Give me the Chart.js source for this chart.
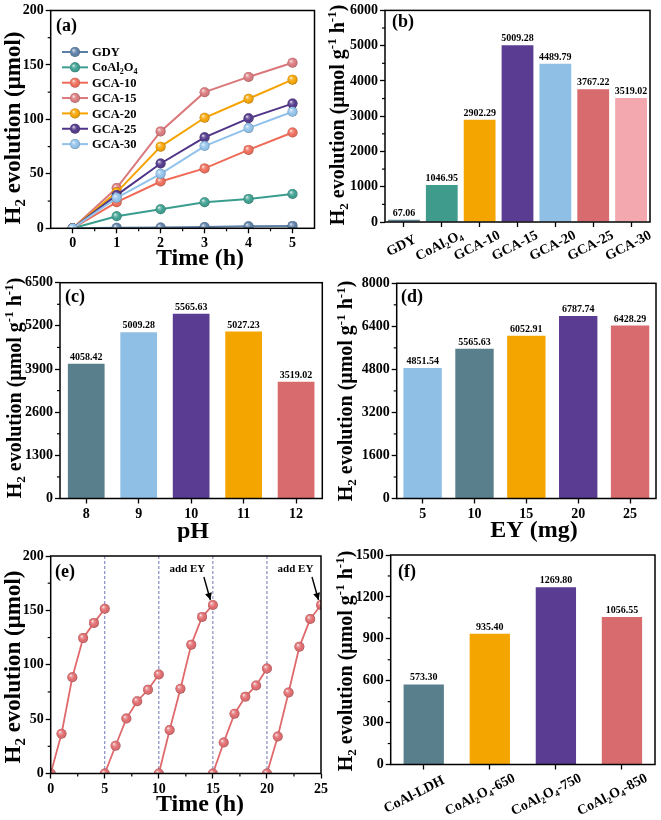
<!DOCTYPE html>
<html><head><meta charset="utf-8">
<script src="https://cdn.jsdelivr.net/npm/chart.js@4.4.1/dist/chart.umd.min.js"></script>
<style>
html,body{margin:0;padding:0;background:#fff;width:661px;height:820px;overflow:hidden;position:relative}
canvas{position:absolute}
</style></head><body>
<script>
const FAM = "'Liberation Serif','Times New Roman',Times,serif";

// ---------------- data ----------------
// (a) time course
const aTime = [0, 1, 2, 3, 4, 5];
const aNames = ['GDY', 'CoAl{_2}O{_4}', 'GCA-10', 'GCA-15', 'GCA-20', 'GCA-25', 'GCA-30'];
const aGDY = [0, 0.5, 0.8, 1.2, 1.8, 2.2];
const aCoAl2O4 = [0, 11, 17.5, 24, 27, 31.5];
const aGCA10 = [0, 24, 43, 55, 72, 88];
const aGCA15 = [0, 37, 89, 125, 139, 152];
const aGCA20 = [0, 33, 75, 101.5, 119, 136.5];
const aGCA25 = [0, 30.5, 59.5, 83.5, 101, 114.5];
const aGCA30 = [0, 28, 50, 75.5, 92, 107];
const aYTicks = [0, 50, 100, 150, 200];

// (b) rates of samples
const bCategories = ['GDY', 'CoAl{_2}O{_4}', 'GCA-10', 'GCA-15', 'GCA-20', 'GCA-25', 'GCA-30'];
const bValues = [67.06, 1046.95, 2902.29, 5009.28, 4489.79, 3767.22, 3519.02];
const bYTicks = [0, 1000, 2000, 3000, 4000, 5000, 6000];

// (c) pH
const cPH = ['8', '9', '10', '11', '12'];
const cValues = [4058.42, 5009.28, 5565.63, 5027.23, 3519.02];
const cYTicks = [0, 1300, 2600, 3900, 5200, 6500];

// (d) EY amount
const dEY = ['5', '10', '15', '20', '25'];
const dValues = [4851.54, 5565.63, 6052.91, 6787.74, 6428.29];
const dYTicks = [0, 1600, 3200, 4800, 6400, 8000];

// (e) cycling
const eCycleTimes = [[0,1,2,3,4,5],[5,6,7,8,9,10],[10,11,12,13,14,15],[15,16,17,18,19,20],[20,21,22,23,24,25]];
const eCycleValues = [
  [0, 36.5, 88.5, 124.5, 138.5, 151.5],
  [0, 25.5, 50.5, 66.5, 77, 91],
  [0, 40, 78, 118.5, 144, 155],
  [0, 28.5, 55, 70.5, 81, 96.5],
  [0, 34, 74.5, 116.5, 142, 155]
];
const eXTicks = [0, 5, 10, 15, 20, 25];
const eYTicks = [0, 50, 100, 150, 200];
const eDividers = [5, 10, 15, 20];
const eAddEY = [[2, 5], [4, 5]]; // (cycle, point) where EY was added

// (f) calcination
const fCategories = ['CoAl-LDH', 'CoAl{_2}O{_4}-650', 'CoAl{_2}O{_4}-750', 'CoAl{_2}O{_4}-850'];
const fValues = [573.30, 935.40, 1269.80, 1056.55];
const fYTicks = [0, 300, 600, 900, 1200, 1500];

// ---------------- styles ----------------
const C_SLATE = '#587F8B', C_TEAL = '#3F9C8D', C_ORANGE = '#F5A500', C_PURPLE = '#5B3C93',
      C_LBLUE = '#8FBFE4', C_RED = '#D86B6E', C_PINK = '#F2A8AE';
const aColors = ['#5A7EA6', '#3A9E8F', '#EF6B57', '#DA787C', '#F6A300', '#4F3488', '#90C2EB'];
const bColors = [C_SLATE, C_TEAL, C_ORANGE, C_PURPLE, C_LBLUE, C_RED, C_PINK];
const cColors = [C_SLATE, C_LBLUE, C_PURPLE, C_ORANGE, C_RED];
const dColors = [C_LBLUE, C_SLATE, C_ORANGE, C_PURPLE, C_RED];
const fColors = [C_SLATE, C_ORANGE, C_PURPLE, C_RED];
const eColor = '#E0696C';

const P = {
  a: {x:0,   y:0,   w:330, h:272, area:{l:50.7, t:10.5,  r:314.5, b:228.3}},
  b: {x:320, y:0,   w:341, h:272, area:{l:385,  t:6.5,   r:650,   b:222}},
  c: {x:0,   y:270, w:330, h:272, area:{l:60,   t:282.7, r:322.3, b:498.5}},
  d: {x:320, y:270, w:341, h:272, area:{l:396.7,t:283.3, r:656,   b:498.5}},
  e: {x:0,   y:540, w:330, h:280, area:{l:50.7, t:556,   r:321,   b:773.5}},
  f: {x:320, y:540, w:341, h:280, area:{l:390.7,t:555,   r:655,   b:764.5}}
};

// ---------------- helpers ----------------
function richParts(str) {
  const out = []; const re = /\{([_^])([^}]*)\}/g; let last = 0, m;
  while ((m = re.exec(str))) {
    if (m.index > last) out.push({t: str.slice(last, m.index), k: ''});
    out.push({t: m[2], k: m[1]}); last = re.lastIndex;
  }
  if (last < str.length) out.push({t: str.slice(last), k: ''});
  return out;
}
function drawRich(ctx, str, x, y, size, align) {
  const parts = richParts(str);
  const big = `bold ${size}px ${FAM}`, small = `bold ${Math.round(size * 0.64)}px ${FAM}`;
  let w = 0;
  parts.forEach(p => { ctx.font = p.k ? small : big; p.w = ctx.measureText(p.t).width; w += p.w; });
  let cx = align === 'center' ? x - w / 2 : align === 'right' ? x - w : x;
  ctx.textAlign = 'left'; ctx.textBaseline = 'alphabetic';
  parts.forEach(p => {
    ctx.font = p.k ? small : big;
    const dy = p.k === '_' ? size * 0.2 : p.k === '^' ? -size * 0.36 : 0;
    ctx.fillText(p.t, cx, y + dy); cx += p.w;
  });
  return w;
}
function drawRichAt(ctx, str, cx, cy, size, angle) {
  ctx.save(); ctx.translate(cx, cy); ctx.rotate(angle || 0);
  ctx.fillStyle = '#000';
  drawRich(ctx, str, 0, size * 0.33, size, 'center');
  ctx.restore();
}
function sphere(ctx, x, y, r) {
  const g = ctx.createRadialGradient(x - r * 0.35, y - r * 0.4, 0, x, y, r);
  g.addColorStop(0, 'rgba(255,255,255,0.92)');
  g.addColorStop(0.3, 'rgba(255,255,255,0.3)');
  g.addColorStop(0.65, 'rgba(255,255,255,0)');
  g.addColorStop(1, 'rgba(0,0,0,0.28)');
  ctx.fillStyle = g; ctx.beginPath(); ctx.arc(x, y, r, 0, Math.PI * 2); ctx.fill();
}
function mids(arr) { const o = []; for (let i = 0; i < arr.length - 1; i++) o.push((arr[i] + arr[i + 1]) / 2); return o; }

function makeCanvas(p) {
  const c = document.createElement('canvas');
  c.width = p.w; c.height = p.h;
  c.style.cssText = `left:${p.x}px;top:${p.y}px;width:${p.w}px;height:${p.h}px`;
  document.body.appendChild(c); return c;
}
const TICKFONT = {family: FAM, size: 14, weight: 'bold'};
function gridOpts(offset) {
  return {display: true, drawOnChartArea: false, drawTicks: true, tickLength: 5, tickColor: '#000', tickWidth: 1.3, offset: !!offset};
}
function yScale(p, ticks) {
  return {type: 'linear', bounds: 'data', min: ticks[0], max: ticks[ticks.length - 1],
    afterBuildTicks: s => { s.ticks = ticks.map(v => ({value: v})); },
    afterFit: s => { s.width = p.area.l - p.x; },
    ticks: {font: TICKFONT, color: '#000', padding: 2, autoSkip: false, callback: v => String(v)},
    grid: gridOpts(false), border: {display: false}};
}
function xLinear(p, ticks, min, max) {
  return {type: 'linear', bounds: 'data', min, max,
    afterBuildTicks: s => { s.ticks = ticks.map(v => ({value: v})); },
    afterFit: s => { s.height = p.y + p.h - p.area.b; },
    ticks: {font: TICKFONT, color: '#000', padding: 2, autoSkip: false, maxRotation: 0, callback: v => String(v)},
    grid: gridOpts(false), border: {display: false}};
}
function xCategory(p, showLabels) {
  return {type: 'category', offset: true,
    afterFit: s => { s.height = p.y + p.h - p.area.b; },
    ticks: {font: TICKFONT, color: '#000', padding: 2, autoSkip: false, maxRotation: 0, minRotation: 0,
      callback: function (v, i) { return showLabels ? this.getLabelForValue(v) : ''; }},
    grid: gridOpts(false), border: {display: false}};
}
function baseOptions(p, xs, ys) {
  return {responsive: false, animation: false, devicePixelRatio: 1, events: [],
    layout: {autoPadding: false, padding: {left: 0, top: p.area.t - p.y, right: p.x + p.w - p.area.r, bottom: 0}},
    plugins: {legend: {display: false}, tooltip: {enabled: false}, title: {display: false}},
    scales: {x: xs, y: ys}};
}
function panelPlugin(p, opt) {
  return {
    id: 'panelDeco',
    beforeDatasetsDraw(chart) { if (opt.before) opt.before(chart, chart.ctx); },
    afterDatasetDraw(chart, args) {
      if (!opt.spheres) return;
      const ctx = chart.ctx, a = chart.chartArea;
      ctx.save(); ctx.beginPath(); ctx.rect(a.left, a.top, a.width, a.height); ctx.clip();
      args.meta.data.forEach(pt => sphere(ctx, pt.x, pt.y, opt.spheres));
      ctx.restore();
    },
    afterDatasetsDraw(chart) {
      const ctx = chart.ctx, a = chart.chartArea, xs = chart.scales.x, ys = chart.scales.y;
      ctx.save();
      ctx.strokeStyle = '#000'; ctx.lineWidth = 1.5;
      ctx.strokeRect(a.left, a.top, a.width, a.height);
      ctx.lineWidth = 1.2;
      (opt.minorY || []).forEach(v => { const py = ys.getPixelForValue(v); ctx.beginPath(); ctx.moveTo(a.left - 3, py); ctx.lineTo(a.left, py); ctx.stroke(); });
      (opt.minorX || []).forEach(v => { const px = xs.getPixelForValue(v); ctx.beginPath(); ctx.moveTo(px, a.bottom); ctx.lineTo(px, a.bottom + 3); ctx.stroke(); });
      ctx.fillStyle = '#000';
      // panel label
      ctx.font = `bold 18px ${FAM}`; ctx.textAlign = 'left'; ctx.textBaseline = 'middle';
      ctx.fillText(opt.label, opt.labelPos[0] - p.x, opt.labelPos[1] - p.y);
      // axis titles
      drawRichAt(ctx, opt.yTitle, opt.yTitlePos[0] - p.x, opt.yTitlePos[1] - p.y, opt.yTitleSize, -Math.PI / 2);
      if (opt.xTitle) drawRichAt(ctx, opt.xTitle, opt.xTitlePos[0] - p.x, opt.xTitlePos[1] - p.y, opt.xTitleSize, 0);
      // bar value labels
      if (opt.values) {
        const meta = chart.getDatasetMeta(0);
        ctx.font = `bold 10px ${FAM}`; ctx.textAlign = 'center'; ctx.textBaseline = 'alphabetic';
        meta.data.forEach((bar, i) => ctx.fillText(opt.values[i].toFixed(2), bar.x, bar.y - 4));
      }
      // rotated category labels
      if (opt.catLabels) {
        opt.catLabels.forEach((lab, i) => {
          const px = xs.getPixelForValue(i);
          drawRichAt(ctx, lab, px + opt.catDx, opt.catY - p.y, 14, -27 * Math.PI / 180);
        });
      }
      ctx.restore();
      if (opt.after) opt.after(chart, ctx);
    }
  };
}

// ---------------- (a) ----------------
(function () {
  const p = P.a;
  const series = [aGDY, aCoAl2O4, aGCA10, aGCA15, aGCA20, aGCA25, aGCA30];
  const datasets = series.map((vals, i) => ({
    label: aNames[i], data: aTime.map((t, j) => ({x: t, y: vals[j]})),
    borderColor: aColors[i], backgroundColor: aColors[i], pointBackgroundColor: aColors[i],
    borderWidth: 2, pointRadius: 5, pointBorderWidth: 0, tension: 0, order: series.length - i
  }));
  const legendRows = aNames.map((n, i) => 52 + i * 15.35);
  new Chart(makeCanvas(p), {
    type: 'line', data: {datasets},
    options: baseOptions(p, xLinear(p, aTime, -0.5, 5.5), yScale(p, aYTicks)),
    plugins: [panelPlugin(p, {
      spheres: 5, minorY: mids(aYTicks), minorX: mids(aTime),
      label: '(a)', labelPos: [56, 26],
      yTitle: 'H{_2} evolution (μmol)', yTitlePos: [12.5, 128], yTitleSize: 23,
      xTitle: 'Time (h)', xTitlePos: [200, 257], xTitleSize: 24,
      after(chart, ctx) {
        ctx.save();
        aNames.forEach((n, i) => {
          const y = legendRows[i];
          ctx.strokeStyle = aColors[i]; ctx.lineWidth = 2;
          ctx.beginPath(); ctx.moveTo(62, y); ctx.lineTo(88, y); ctx.stroke();
          ctx.fillStyle = aColors[i]; ctx.beginPath(); ctx.arc(75, y, 5, 0, Math.PI * 2); ctx.fill();
          sphere(ctx, 75, y, 5);
          ctx.fillStyle = '#000';
          drawRich(ctx, n, 92, y + 12.5 * 0.33, 12.5, 'left');
        });
        ctx.restore();
      }
    })]
  });
})();

// ---------------- bar helper ----------------
function barChart(p, cats, vals, colors, yTicks, barPct, extra, showLabels) {
  new Chart(makeCanvas(p), {
    type: 'bar',
    data: {labels: cats, datasets: [{data: vals, backgroundColor: colors, borderWidth: 0,
      barPercentage: barPct, categoryPercentage: 1}]},
    options: baseOptions(p, xCategory(p, showLabels), yScale(p, yTicks)),
    plugins: [panelPlugin(p, Object.assign({minorY: mids(yTicks), values: vals,
      yTitle: 'H{_2} evolution (μmol g{^-1} h{^-1})', yTitleSize: 20}, extra))]
  });
}

// (b)
barChart(P.b, bCategories, bValues, bColors, bYTicks, 0.84, {
  label: '(b)', labelPos: [392, 22], yTitlePos: [337, 115],
  catLabels: bCategories, catDx: -3, catY: 245
}, false);
// (c)
barChart(P.c, cPH, cValues, cColors, cYTicks, 0.70, {
  label: '(c)', labelPos: [65, 297], yTitlePos: [14, 388],
  xTitle: 'pH', xTitlePos: [193, 530], xTitleSize: 24
}, true);
// (d)
barChart(P.d, dEY, dValues, dColors, dYTicks, 0.74, {
  label: '(d)', labelPos: [401, 297], yTitlePos: [345.5, 391],
  xTitle: 'EY (mg)', xTitlePos: [534, 529], xTitleSize: 24
}, true);
// (f)
barChart(P.f, fCategories, fValues, fColors, fYTicks, 0.61, {
  label: '(f)', labelPos: [398, 572], yTitlePos: [345, 661],
  catLabels: fCategories, catDx: -10, catY: 794
}, false);

// ---------------- (e) ----------------
(function () {
  const p = P.e;
  const datasets = eCycleValues.map((vals, i) => ({
    data: eCycleTimes[i].map((t, j) => ({x: t, y: vals[j]})),
    borderColor: eColor, backgroundColor: eColor, pointBackgroundColor: eColor,
    borderWidth: 1.8, pointRadius: 5, pointBorderWidth: 0, tension: 0, clip: 0
  }));
  new Chart(makeCanvas(p), {
    type: 'line', data: {datasets},
    options: baseOptions(p, xLinear(p, eXTicks, 0, 25), yScale(p, eYTicks)),
    plugins: [panelPlugin(p, {
      spheres: 5, minorY: mids(eYTicks), minorX: mids(eXTicks),
      label: '(e)', labelPos: [55, 572],
      yTitle: 'H{_2} evolution (μmol)', yTitlePos: [12.5, 667], yTitleSize: 23,
      xTitle: 'Time (h)', xTitlePos: [200, 803], xTitleSize: 24,
      before(chart, ctx) {
        const a = chart.chartArea, xs = chart.scales.x;
        ctx.save(); ctx.strokeStyle = '#6F73B5'; ctx.lineWidth = 1; ctx.setLineDash([3, 2]);
        eDividers.forEach(v => { const px = xs.getPixelForValue(v); ctx.beginPath(); ctx.moveTo(px, a.top); ctx.lineTo(px, a.bottom); ctx.stroke(); });
        ctx.restore();
      },
      after(chart, ctx) {
        const xs = chart.scales.x, ys = chart.scales.y;
        ctx.save();
        eAddEY.forEach(([ci, pi]) => {
          const px = xs.getPixelForValue(eCycleTimes[ci][pi]), py = ys.getPixelForValue(eCycleValues[ci][pi]);
          const x0 = px - 9, y0 = py - 28, x1 = px - 2.5, y1 = py - 5;
          ctx.strokeStyle = '#000'; ctx.fillStyle = '#000'; ctx.lineWidth = 1.4;
          ctx.beginPath(); ctx.moveTo(x0, y0); ctx.lineTo(x1, y1); ctx.stroke();
          const ang = Math.atan2(y1 - y0, x1 - x0), L = 7, W = 3.5;
          ctx.beginPath(); ctx.moveTo(x1, y1);
          ctx.lineTo(x1 - L * Math.cos(ang) + W * Math.sin(ang), y1 - L * Math.sin(ang) - W * Math.cos(ang));
          ctx.lineTo(x1 - L * Math.cos(ang) - W * Math.sin(ang), y1 - L * Math.sin(ang) + W * Math.cos(ang));
          ctx.closePath(); ctx.fill();
          ctx.font = `bold 11px ${FAM}`; ctx.textAlign = 'center'; ctx.textBaseline = 'middle';
          ctx.fillText('add EY', px - 25.5, py - 35.5);
        });
        ctx.restore();
      }
    })]
  });
})();
</script>
</body></html>
